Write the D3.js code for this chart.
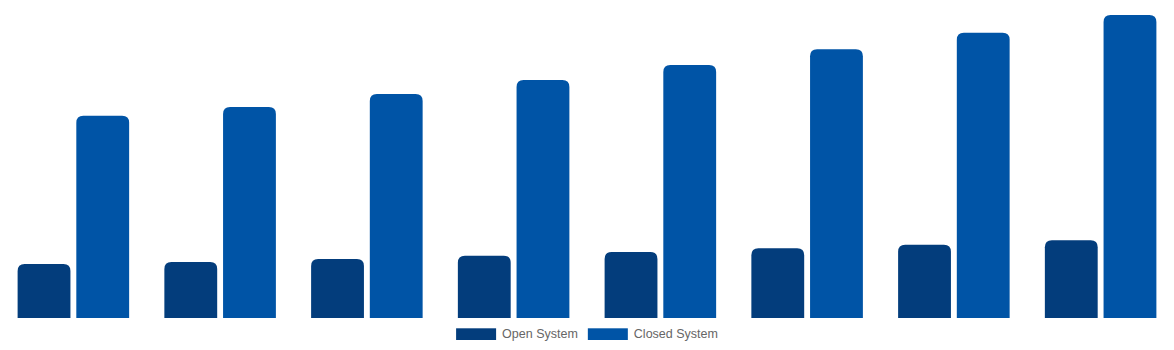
<!DOCTYPE html>
<html>
<head>
<meta charset="utf-8">
<script src="https://cdn.jsdelivr.net/npm/d3@7"></script>
<style>
  html, body { margin: 0; padding: 0; background: #fff; }
  svg { display: block; }
</style>
</head>
<body>
<svg id="chart" width="1174" height="350"></svg>
<script>
const categories = ["2023", "2024", "2025", "2026", "2027", "2028", "2029", "2030"];
const seriesNames = ["Open System", "Closed System"];
const openSystem = [6.79, 7.04, 7.42, 7.84, 8.30, 8.77, 9.22, 9.77];
const closedSystem = [25.45, 26.54, 28.18, 29.94, 31.82, 33.80, 35.89, 38.11];
const seriesColors = ["#033d7c", "#0054a6"];

const W = 1174, H = 350;
const plot = { left: 0, right: 1174, top: 0, bottom: 318 };
const svg = d3.select("#chart");

const x0 = d3.scaleBand().domain(categories).range([plot.left, plot.right]).paddingInner(0.2).paddingOuter(0.1);
const x1 = d3.scaleBand().domain(seriesNames).range([0, x0.bandwidth()]);
const y = d3.scaleLinear().domain([0, 40]).range([plot.bottom, plot.top]);

const data = [openSystem, closedSystem];
const r = 7;
function topRounded(x, yTop, w, yBot, rad) {
  const rr = Math.min(rad, w / 2, (yBot - yTop));
  return `M${x},${yBot}V${yTop + rr}Q${x},${yTop} ${x + rr},${yTop}H${x + w - rr}Q${x + w},${yTop} ${x + w},${yTop + rr}V${yBot}Z`;
}

// Chart.js-like: categoryPercentage 0.8, barPercentage 0.9
seriesNames.forEach((name, si) => {
  const g = svg.append("g");
  categories.forEach((c, ci) => {
    const slot = x1.bandwidth();
    const bw = slot * 0.9;
    const bx = x0(c) + x1(name) + (slot - bw) / 2;
    g.append("path")
      .attr("d", topRounded(bx, y(data[si][ci]), bw, y(0), r))
      .attr("fill", seriesColors[si]);
  });
});

// Legend
const legend = svg.append("g");
const fontSize = 12.5;
let cursor = 0;
seriesNames.forEach((name, i) => {
  const it = legend.append("g");
  it.append("rect").attr("x", 0).attr("y", 328.3).attr("width", 40).attr("height", 11.7).attr("fill", seriesColors[i]);
  const t = it.append("text").attr("x", 46).attr("y", 337.6)
    .attr("font-family", "'Liberation Sans', Arial, Helvetica, sans-serif")
    .attr("font-size", fontSize).attr("fill", "#666").text(name);
  const tw = t.node().getComputedTextLength();
  it.attr("transform", `translate(${cursor},0)`);
  cursor += 46 + tw + 10;
});
const totalW = cursor - 10;
legend.attr("transform", `translate(${(W - totalW) / 2},0)`);
</script>
</body>
</html>
